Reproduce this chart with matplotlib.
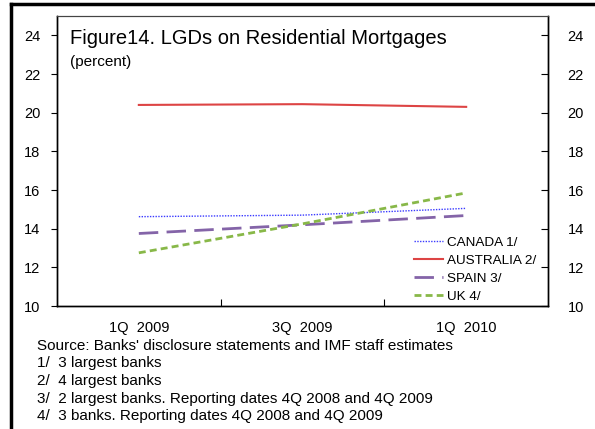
import matplotlib
matplotlib.use("Agg")
import matplotlib.pyplot as plt
from matplotlib.lines import Line2D

plt.rcParams['font.family'] = ['Liberation Sans', 'DejaVu Sans']

categories = ["1Q  2009", "3Q  2009", "1Q  2010"]
canada = [14.62, 14.70, 15.05]
australia = [20.40, 20.44, 20.30]
spain = [13.75, 14.20, 14.68]
uk = [12.75, 14.25, 15.85]
yticks = [10, 12, 14, 16, 18, 20, 22, 24]
footnotes = [
    "Source: Banks' disclosure statements and IMF staff estimates",
    "1/  3 largest banks",
    "2/  4 largest banks",
    "3/  2 largest banks. Reporting dates 4Q 2008 and 4Q 2009",
    "4/  3 banks. Reporting dates 4Q 2008 and 4Q 2009",
]

fig = plt.figure(figsize=(5.95, 4.29), dpi=100)
ax = fig.add_axes([57/595, 1-306/429, (548-57)/595, (306-16)/429])

x = list(range(len(categories)))
ax.plot(x, canada, color='#3a3aff', lw=1.0, linestyle=(0, (1, 1)), label='CANADA 1/')
ax.plot(x, australia, color='#dd4444', lw=1.5, label='AUSTRALIA 2/')
ax.plot(x, spain, color='#8464a8', lw=2.0, linestyle=(0, (7, 3)), label='SPAIN 3/')
ax.plot(x, uk, color='#88b848', lw=2.0, linestyle=(0, (2.5, 1.5)), label='UK 4/')

ax.set_xlim(-0.5, 2.5)
ax.set_ylim(10, 25)
ax.set_yticks(yticks)
ax.set_yticklabels([str(v) for v in yticks], fontsize=10.5)
ax.tick_params(axis='y', direction='out', length=4, width=0.8, pad=8)

# x ticks between categories, category labels without tick marks
ax.set_xticks([0.5, 1.5])
ax.set_xticklabels([])
ax.tick_params(axis='x', direction='in', length=5, width=0.8)
ax.set_xticks(x, minor=True)
ax.set_xticklabels(categories, minor=True, fontsize=10.5)
ax.tick_params(axis='x', which='minor', length=0, pad=11)

ax2 = ax.twinx()
ax2.set_ylim(10, 25)
ax2.set_yticks(yticks)
ax2.set_yticklabels([str(v) for v in yticks], fontsize=10.5)
ax2.tick_params(axis='y', direction='in', length=5, width=0.8, pad=14)

for a in (ax, ax2):
    a.spines['top'].set_color('#444444')
    a.spines['top'].set_linewidth(0.8)
    for s in ('left', 'right', 'bottom'):
        a.spines[s].set_linewidth(1.0)
        a.spines[s].set_color('black')

ax.text(0.027, 1 - (38-16)/290, "Figure14. LGDs on Residential Mortgages", transform=ax.transAxes,
        fontsize=14.5, ha='left', va='center')
ax.text(0.027, 1 - (62-16)/290, "(percent)", transform=ax.transAxes, fontsize=11, ha='left', va='center')

leg = ax.legend(loc='lower left', bbox_to_anchor=(0.71, -0.018), frameon=False, fontsize=9.7,
                handlelength=2.2, handletextpad=0.25, labelspacing=0.42, borderaxespad=0.2)

y0 = 1 - 346/429
for i, t in enumerate(footnotes):
    fig.text(37/595, y0 - i*17.5/429, t, fontsize=11, ha='left', va='center')

fig.add_artist(Line2D([11/595, 1], [1-4/429, 1-4/429], color='black', lw=2.5, transform=fig.transFigure))
fig.add_artist(Line2D([11/595, 11/595], [0, 1-4/429], color='black', lw=2.5, transform=fig.transFigure))

fig.savefig("out.png", dpi=100)
